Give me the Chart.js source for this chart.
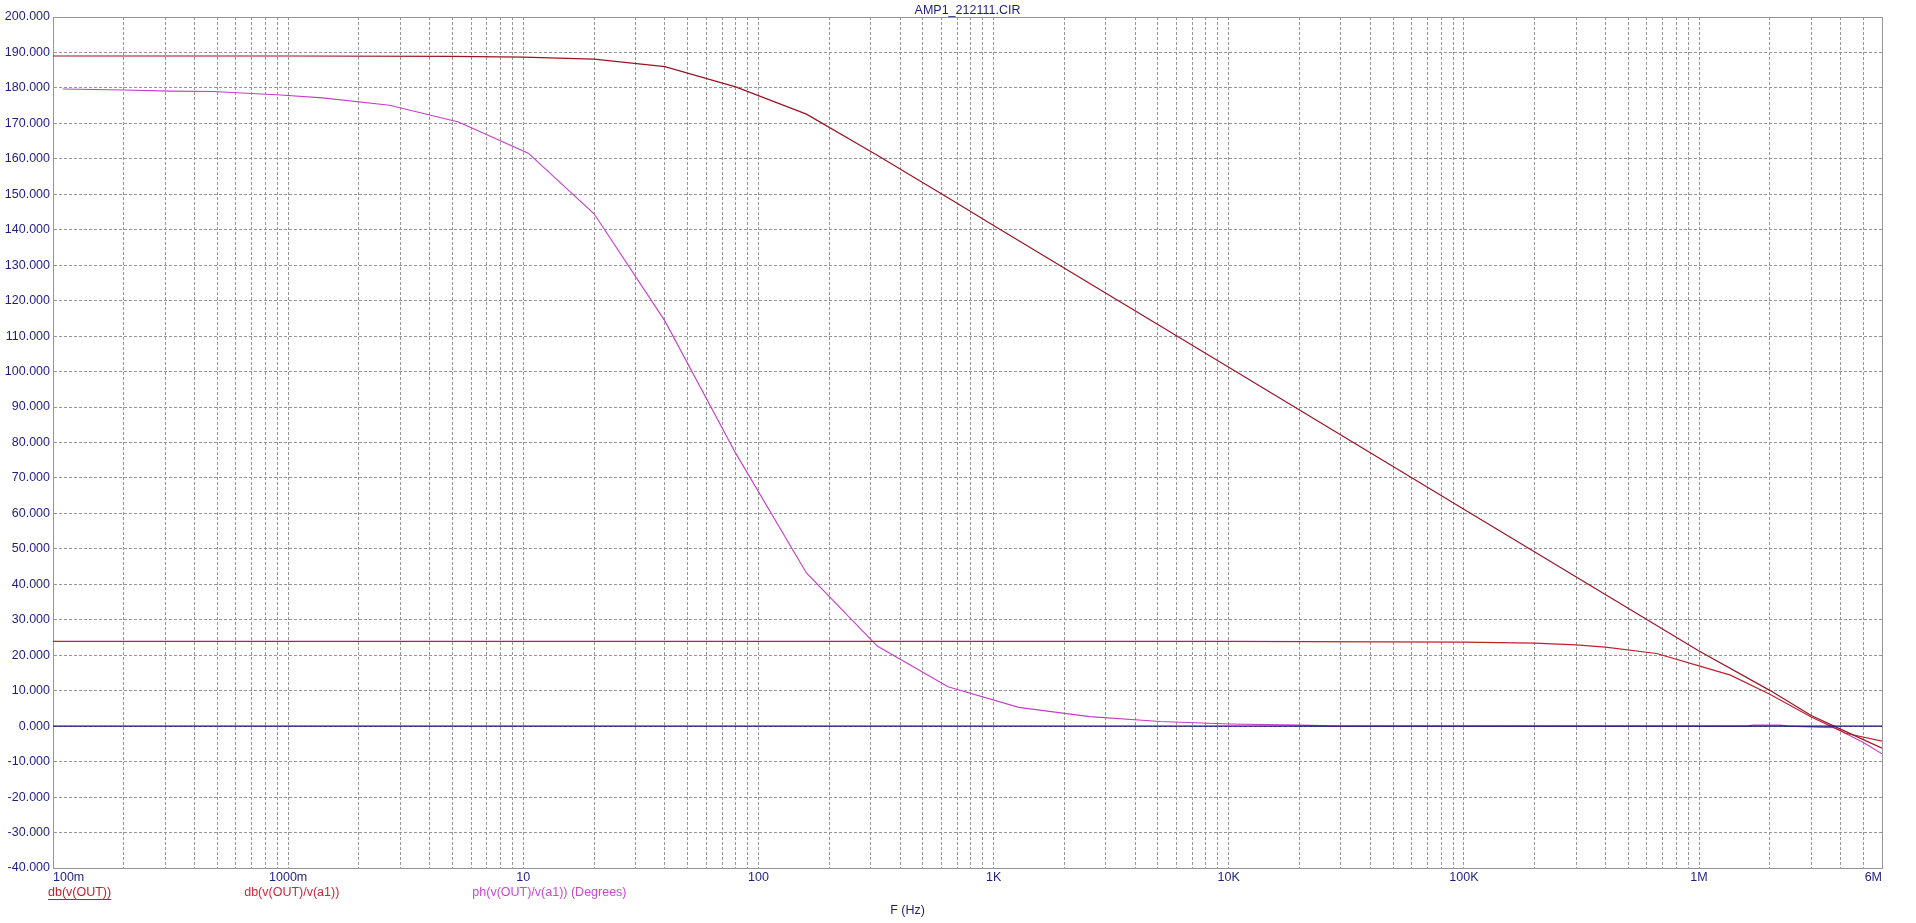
<!DOCTYPE html>
<html>
<head>
<meta charset="utf-8">
<title>AMP1_212111.CIR</title>
<script src="https://cdn.jsdelivr.net/npm/chart.js@4.4.1/dist/chart.umd.min.js"></script>
<style>
  html, body { margin: 0; padding: 0; background: #fff; }
  canvas { display: block; }
</style>
</head>
<body>
<canvas id="chart" width="1916" height="923"></canvas>
<script>
// points, F in Hz
const gainFreq = [0.1, 1, 5, 10, 20, 40, 80, 160, 320, 640, 1e3, 1e4, 1e5, 1e6, 2e6, 3e6, 3.75e6, 6e6];
const gainDb = [189.0, 189.0, 188.9, 188.7, 188.1, 186.0, 180.3, 172.6, 161.0, 149.0, 141.2, 101.2, 61.2, 21.2, 10.1, 3.0, 0.0, -6.2];

const ratioFreq = [0.1, 1e4, 1e5, 2e5, 3e5, 4e5, 6.6e5, 1e6, 1.36e6, 2e6, 3e6, 4.2e6, 6e6];
const ratioDb = [23.9, 23.9, 23.7, 23.4, 22.9, 22.3, 20.5, 17.0, 14.4, 9.0, 2.6, -2.0, -4.2];

const phaseFreq = [0.11, 0.2, 0.32, 0.48, 0.93, 1.4, 2.7, 5.3, 10.5, 20, 40, 80, 160, 320, 640, 1280, 2560, 5120, 1e4, 2e4, 3e4, 1e6, 1.6e6, 1.7e6, 2.2e6, 2.4e6, 3.75e6, 5e6, 6e6];
const phaseDeg = [179.7, 179.4, 179.1, 179.0, 178.0, 177.2, 175.1, 170.4, 161.6, 144.5, 114.3, 77.0, 43.2, 22.6, 11.1, 5.3, 2.7, 1.3, 0.6, 0.3, 0.0, 0.0, 0.0, 0.3, 0.3, 0.0, -0.4, -4.6, -7.8];

const zeroFreq = [0.1, 6e6];
const zeroVal = [0, 0];

const seriesNames = ['db(v(OUT))', 'db(v(OUT)/v(a1))', 'ph(v(OUT)/v(a1)) (Degrees)'];
const seriesColors = ['#9a1424', '#c0202c', '#c63cc6'];
const legendColors = ['#c01e2a', '#c8283a', '#c848d0'];

const xLabelValues = [0.1, 1, 10, 100, 1e3, 1e4, 1e5, 1e6, 6e6];
const xLabels = ['100m', '1000m', '10', '100', '1K', '10K', '100K', '1M', '6M'];
const yTicks = [-40, -30, -20, -10, 0, 10, 20, 30, 40, 50, 60, 70, 80, 90, 100,
  110, 120, 130, 140, 150, 160, 170, 180, 190, 200];

const navy = '#1e1e82';
const gridGray = '#969696';
const fontFamily = '"Liberation Sans", Arial, sans-serif';

// log grid: 1..9 in every decade, up to the 6M end
const decades = [0.1, 1, 10, 100, 1e3, 1e4, 1e5, 1e6];
const xGrid = [];
decades.forEach(d => {
  for (let m = 1; m <= 9; m++) {
    const v = Number((d * m).toPrecision(6));
    if (v <= 6e6) xGrid.push(v);
  }
});

function pts(xs, ys) {
  return xs.map((x, i) => ({ x: x, y: ys[i] }));
}

function xLabel(v) {
  const i = xLabelValues.findIndex(t => Math.abs(t - v) / t < 1e-6);
  return i >= 0 ? xLabels[i] : '';
}

// legend row and axis name under the tick labels
const bottomText = {
  id: 'bottomText',
  afterDraw(chart) {
    const { ctx, chartArea } = chart;
    ctx.save();
    ctx.font = '12.5px ' + fontFamily;
    ctx.textBaseline = 'middle';
    ctx.textAlign = 'left';
    let x = chartArea.left - 5;
    const y = chartArea.bottom + 25;
    seriesNames.forEach((name, i) => {
      const w = ctx.measureText(name).width;
      ctx.fillStyle = legendColors[i];
      ctx.fillText(name, x, y);
      if (i === 0) {
        ctx.strokeStyle = legendColors[i];
        ctx.lineWidth = 1;
        ctx.beginPath();
        ctx.moveTo(x, y + 6.5);
        ctx.lineTo(x + w, y + 6.5);
        ctx.stroke();
      }
      x += w + 133;
    });
    ctx.fillStyle = navy;
    ctx.textAlign = 'center';
    ctx.fillText('F (Hz)', (chartArea.left + chartArea.right) / 2 - 60, chartArea.bottom + 43);
    ctx.restore();
  }
};

const ctx = document.getElementById('chart').getContext('2d');

new Chart(ctx, {
  type: 'line',
  data: {
    datasets: [
      {
        label: '',
        data: pts(zeroFreq, zeroVal),
        borderColor: '#10107a',
        borderWidth: 1.2,
        order: 0
      },
      {
        label: seriesNames[0],
        data: pts(gainFreq, gainDb),
        borderColor: seriesColors[0],
        borderWidth: 1.2,
        order: 1
      },
      {
        label: seriesNames[1],
        data: pts(ratioFreq, ratioDb),
        borderColor: seriesColors[1],
        borderWidth: 1.2,
        order: 2
      },
      {
        label: seriesNames[2],
        data: pts(phaseFreq, phaseDeg),
        borderColor: seriesColors[2],
        borderWidth: 1.1,
        order: 3
      }
    ]
  },
  options: {
    responsive: false,
    animation: false,
    events: [],
    elements: {
      point: { radius: 0 },
      line: { tension: 0, fill: false }
    },
    layout: { padding: { left: 0, right: 34, top: 0, bottom: 0 } },
    plugins: {
      legend: { display: false },
      tooltip: { enabled: false },
      title: {
        display: true,
        text: 'AMP1_212111.CIR',
        fullSize: false,
        color: navy,
        font: { family: fontFamily, size: 12.5, weight: 'normal', lineHeight: 1 },
        padding: { top: 4, bottom: 0.5 }
      }
    },
    scales: {
      x: {
        type: 'logarithmic',
        position: 'bottom',
        min: 0.1,
        max: 6e6,
        afterBuildTicks: (scale) => {
          scale.ticks = xGrid.map(v => ({ value: v }));
        },
        afterFit: (scale) => { scale.height = 55; },
        grid: { color: gridGray, lineWidth: 1, drawTicks: false },
        border: { display: true, color: gridGray, width: 1, dash: [3, 2] },
        ticks: {
          autoSkip: false,
          maxRotation: 0,
          minRotation: 0,
          align: 'inner',
          padding: 2,
          color: navy,
          font: { family: fontFamily, size: 12.5 },
          callback: (v) => xLabel(v)
        }
      },
      y: {
        type: 'linear',
        position: 'left',
        min: -40,
        max: 200,
        afterBuildTicks: (scale) => {
          scale.ticks = yTicks.map(v => ({ value: v }));
        },
        afterFit: (scale) => { scale.width = 53; },
        grid: { color: gridGray, lineWidth: 1, drawTicks: false },
        border: { display: true, color: gridGray, width: 1, dash: [3, 2] },
        ticks: {
          padding: 3,
          color: navy,
          font: { family: fontFamily, size: 12.5 },
          callback: (v) => Number(v).toFixed(3)
        }
      },
      xTop: {
        type: 'linear',
        position: 'top',
        afterFit: (scale) => { scale.height = 0; },
        grid: { display: false, drawTicks: false },
        border: { display: true, color: gridGray, width: 1 },
        ticks: { display: false }
      },
      yRight: {
        type: 'linear',
        position: 'right',
        afterFit: (scale) => { scale.width = 0; },
        grid: { display: false, drawTicks: false },
        border: { display: true, color: gridGray, width: 1 },
        ticks: { display: false }
      }
    }
  },
  plugins: [bottomText]
});
</script>
</body>
</html>
